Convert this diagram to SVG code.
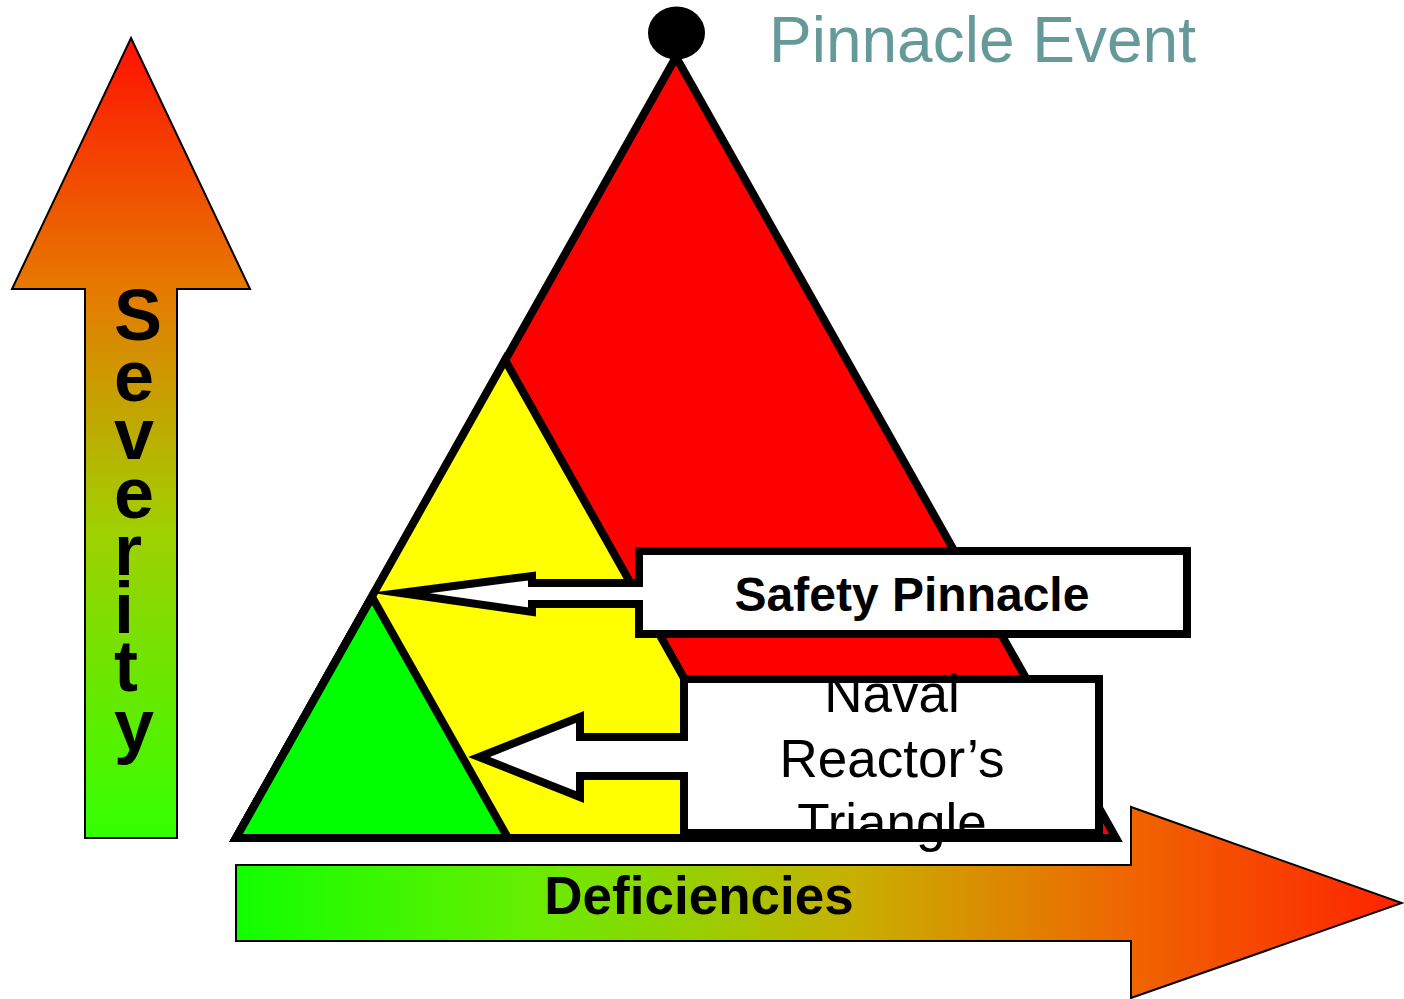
<svg xmlns="http://www.w3.org/2000/svg" xmlns:xlink="http://www.w3.org/1999/xlink" width="1404" height="999" viewBox="0 0 1404 999">
  <style>
    .axis { stroke: #000; stroke-width: 2; }
    .tri { stroke: #000; stroke-width: 8; stroke-linejoin: miter; stroke-miterlimit: 10; }
    .box-fill { fill: #fff; stroke: none; }
    .box-line { fill: none; stroke: #000; stroke-width: 8; stroke-linejoin: miter; stroke-miterlimit: 10; }
    .bold { font-family: "Liberation Sans", Arial, sans-serif; font-weight: bold; fill: #000; }
    .plain { font-family: "Liberation Sans", Arial, sans-serif; fill: #000; }
  </style>
  <defs>
    <linearGradient id="gradUp" x1="0" y1="838" x2="0" y2="38" gradientUnits="userSpaceOnUse">
      <stop offset="0" stop-color="#33ff00"/>
      <stop offset="0.385" stop-color="#a0d000"/>
      <stop offset="0.685" stop-color="#e67a00"/>
      <stop offset="1" stop-color="#ff1000"/>
    </linearGradient>
    <linearGradient id="gradRight" x1="236" y1="0" x2="1402" y2="0" gradientUnits="userSpaceOnUse">
      <stop offset="0" stop-color="#11ff00"/>
      <stop offset="0.25" stop-color="#66ee00"/>
      <stop offset="0.53" stop-color="#c8b000"/>
      <stop offset="0.77" stop-color="#f06400"/>
      <stop offset="1" stop-color="#ff2200"/>
    </linearGradient>
    <!-- callout outlines: box with an arrow pointing left -->
    <path id="safetyShape" d="M639,551 H1187 V634 H639 V604 H532 V612 L400,593 L532,576 V583 H639 Z"/>
    <path id="navalShape" d="M684,679 H1099 V833 H684 V776 H580 V797 L479,757 L580,717 V737 H684 Z"/>
  </defs>

  <!-- severity axis -->
  <g id="severity">
    <polygon class="axis" fill="url(#gradUp)" points="131,38 250,289 177,289 177,838 85,838 85,289 12,289"/>
    <g class="bold" font-size="72">
      <text x="114" y="340">S</text>
      <text x="114" y="401">e</text>
      <text x="114" y="459">v</text>
      <text x="114" y="518">e</text>
      <text x="114" y="575">r</text>
      <text x="114" y="633">i</text>
      <text x="114" y="691">t</text>
      <text x="114" y="750">y</text>
    </g>
  </g>

  <!-- deficiencies axis -->
  <g id="deficiencies">
    <polygon class="axis" fill="url(#gradRight)" points="236,865 1131,865 1131,807 1402,903 1131,998 1131,941 236,941"/>
    <text class="bold" font-size="53" x="699" y="914" text-anchor="middle">Deficiencies</text>
  </g>

  <!-- nested triangles -->
  <g id="pinnacle-triangle">
    <polygon class="tri" fill="#ff0000" points="676,57 1116,838 236,838"/>
  </g>
  <g id="safety-triangle">
    <polygon class="tri" fill="#ffff00" points="505,360 774,838 236,838"/>
  </g>
  <g id="naval-triangle">
    <polygon class="tri" fill="#00ff00" points="372,597 508,838 236,838"/>
  </g>

  <!-- pinnacle event marker -->
  <g id="pinnacle-event">
    <ellipse cx="676.5" cy="33" rx="28.5" ry="26.5" fill="#000"/>
    <text class="plain" font-size="64" x="769" y="62" style="fill:#669999">Pinnacle Event</text>
  </g>

  <!-- callouts -->
  <g id="connectors">
    <g id="safety-callout">
      <use xlink:href="#safetyShape" class="box-fill"/>
      <text class="bold" font-size="48" x="912" y="611" text-anchor="middle">Safety Pinnacle</text>
      <use xlink:href="#safetyShape" class="box-line"/>
    </g>
    <g id="naval-callout">
      <use xlink:href="#navalShape" class="box-fill"/>
      <g class="plain" font-size="53" text-anchor="middle">
        <text x="892" y="712">Naval</text>
        <text x="892" y="777">Reactor’s</text>
        <text x="892" y="841">Triangle</text>
      </g>
      <use xlink:href="#navalShape" class="box-line"/>
    </g>
  </g>
</svg>
